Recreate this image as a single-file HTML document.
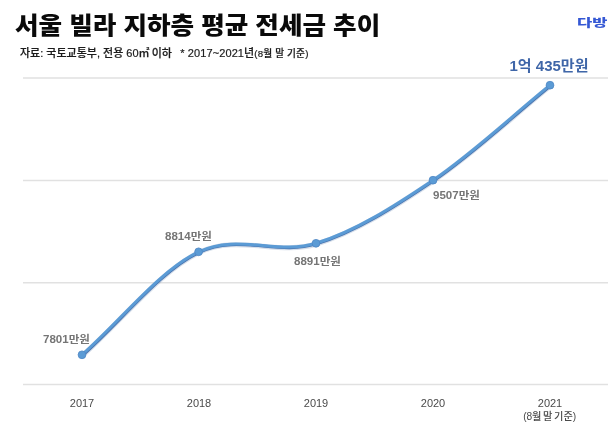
<!DOCTYPE html>
<html lang="ko">
<head>
<meta charset="utf-8">
<title>서울 빌라 지하층 평균 전세금 추이</title>
<style>
html,body{margin:0;padding:0;background:#fff;}
body{width:616px;height:429px;overflow:hidden;position:relative;font-family:"Liberation Sans","Noto Sans CJK KR",sans-serif;color:#111;}
.abs{position:absolute;white-space:nowrap;line-height:1;}
#title{left:15px;top:12.9px;font-size:25.6px;font-weight:900;color:#0a0a0a;transform-origin:0 100%;transform:scaleY(0.92);}
#sub{left:20px;top:48px;font-size:11px;font-weight:500;color:#1c1c1c;-webkit-text-stroke:0.2px #1c1c1c;}
#logo{left:577.2px;top:17.5px;font-size:11px;font-weight:900;color:#3558d4;transform-origin:0 0;transform:scaleX(1.5);}
.lbl{font-size:10.5px;transform-origin:0 50%;transform:scaleX(1.1);font-weight:700;color:#757575;}
.yr{font-size:11px;color:#4a4a4a;transform:translateX(-50%);}
#big{font-size:15px;font-weight:700;color:#3f66a8;}
svg{position:absolute;left:0;top:0;}
</style>
</head>
<body>
<svg width="616" height="429" viewBox="0 0 616 429">
  <g stroke="#e1e1e1" stroke-width="1.5">
    <line x1="23" y1="78" x2="608" y2="78"/>
    <line x1="23" y1="180.4" x2="608" y2="180.4"/>
    <line x1="23" y1="282.8" x2="608" y2="282.8"/>
    <line x1="23" y1="384.6" x2="608" y2="384.6"/>
  </g>
  <g fill="none" stroke-linecap="round">
    <path transform="translate(0.5,0.7)" d="M82.0,354.8 C120.9,320.5 159.6,270.4 198.6,251.8 C237.6,233.2 276.9,255.2 316.0,243.3 C355.1,231.4 394.0,206.5 433.0,180.2 C472.0,153.8 511.0,116.9 550.0,85.2" stroke="#42689f" stroke-opacity="0.22" stroke-width="5"/>
    <path transform="translate(0.5,0.6)" d="M82.0,354.8 C120.9,320.5 159.6,270.4 198.6,251.8 C237.6,233.2 276.9,255.2 316.0,243.3 C355.1,231.4 394.0,206.5 433.0,180.2 C472.0,153.8 511.0,116.9 550.0,85.2" stroke="#4872ad" stroke-width="3"/>
    <path d="M82.0,354.8 C120.9,320.5 159.6,270.4 198.6,251.8 C237.6,233.2 276.9,255.2 316.0,243.3 C355.1,231.4 394.0,206.5 433.0,180.2 C472.0,153.8 511.0,116.9 550.0,85.2" stroke="#5b9bd5" stroke-width="3"/>
  </g>
  <g fill="#5b9bd5" stroke="#4f86c4" stroke-width="0.8">
    <circle cx="82.0" cy="354.8" r="3.9"/>
    <circle cx="198.6" cy="251.8" r="3.9"/>
    <circle cx="316.0" cy="243.3" r="3.9"/>
    <circle cx="433.0" cy="180.2" r="3.9"/>
    <circle cx="550.0" cy="85.2" r="3.9"/>
  </g>
</svg>
<div id="title" class="abs">서울 빌라 지하층 평균 전세금 추이</div>
<div id="sub" class="abs">자료: 국토교통부, 전용 60㎡ <span id="s2" style="margin-left:-1px">이하</span> &nbsp; <span id="s3" style="margin-left:-0.8px;letter-spacing:0.1px">* 2017~2021년</span><span id="par" style="font-size:9.7px;letter-spacing:0.15px;">(8월 말 기준)</span></div>
<div id="logo" class="abs">다방</div>
<div class="abs lbl" style="left:43px;top:334.2px;">7801만원</div>
<div class="abs lbl" style="left:165px;top:231.2px;">8814만원</div>
<div class="abs lbl" style="left:294.1px;top:255.5px;">8891만원</div>
<div class="abs lbl" style="left:433px;top:190.2px;">9507만원</div>
<div id="big" class="abs" style="left:509.5px;top:57.6px;">1억 435만원</div>
<div class="abs yr" style="left:82px;top:397.5px;">2017</div>
<div class="abs yr" style="left:199px;top:397.5px;">2018</div>
<div class="abs yr" style="left:316px;top:397.5px;">2019</div>
<div class="abs yr" style="left:433px;top:397.5px;">2020</div>
<div class="abs yr" style="left:550px;top:397.5px;">2021</div>
<div class="abs yr" style="left:549.6px;top:412.1px;font-size:10.2px;font-weight:500;word-spacing:-1px;letter-spacing:-0.1px;">(8월 말 기준)</div>
</body>
</html>
